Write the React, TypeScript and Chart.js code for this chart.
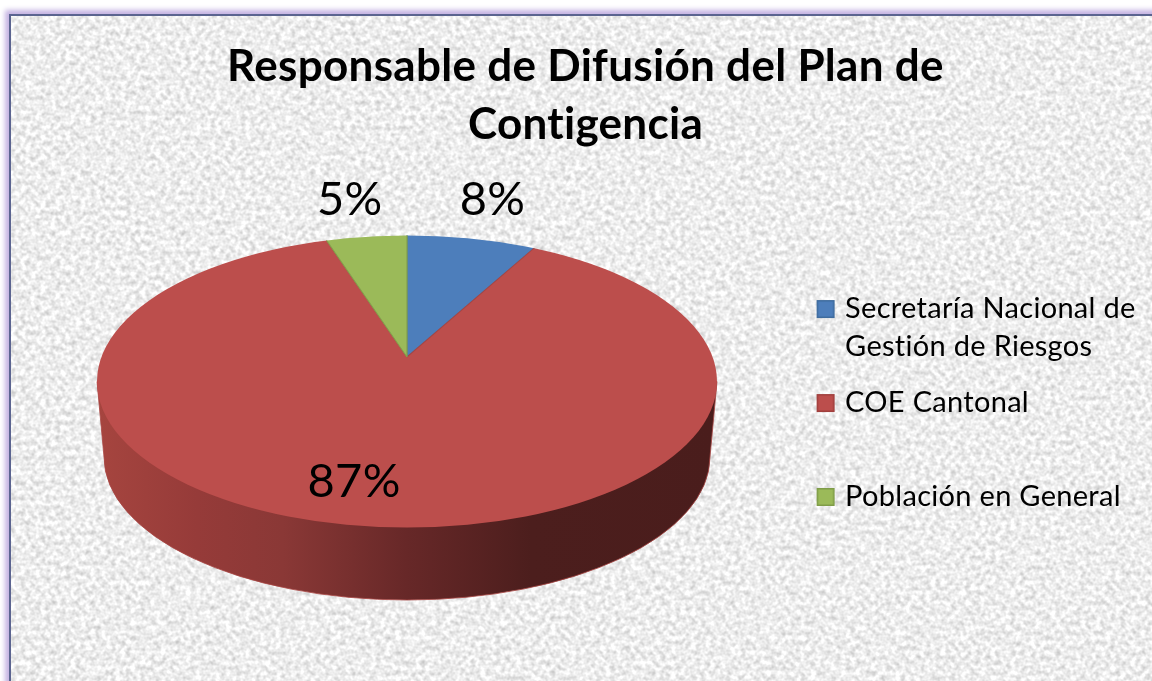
import React, { useEffect, useRef } from "react";
import { Chart, registerables } from "chart.js";

Chart.register(...registerables);

const categories: (string | string[])[] = [
  ["Secretaría Nacional de", "Gestión de Riesgos"],
  ["COE Cantonal", ""],
  ["Población en General"],
];
const values = [8, 87, 5];
const colors = ["#4D7EBB", "#BC4E4C", "#9BBA59"];
const edgeColors = ["#45709F", "#A84543", "#84A04C"];
const legendEdges = ["#3F6C9E", "#A03F3D", "#7F9C48"];
const titleLines = ["Responsable de Difusión del Plan de", "Contigencia"];

// Pie projection
const FONT = "Lato";
const APEX = { x: 407, y: 357 };
const TOP = { cx: 407, cy: 381.5, rx: 310, ry: 146 };
const BASE = { cx: 407, cy: 457, rx: 303, ry: 143 };
const PIE_UNSCALED_R = 400;
const LABEL_R = [344, 265, 340];
const LABEL_DX = [0, -28, -4];
const LABEL_DY = [0, 1, 1];

const noise = `<svg xmlns='http://www.w3.org/2000/svg' width='1152' height='681'><filter id='n' x='0' y='0' width='100%' height='100%' color-interpolation-filters='sRGB'><feTurbulence type='fractalNoise' baseFrequency='0.2' numOctaves='2' seed='7'/><feColorMatrix type='matrix' values='0.38 0 0 0 0.74  0.38 0 0 0 0.74  0.38 0 0 0 0.74  0 0 0 0 1'/></filter><rect width='1152' height='681' filter='url(#n)'/></svg>`;

function legendSwatch(fill: string, edge: string) {
  const c = document.createElement("canvas");
  c.width = 24;
  c.height = 20;
  const g = c.getContext("2d")!;
  g.fillStyle = fill;
  g.fillRect(5, 1, 18, 18);
  g.strokeStyle = edge;
  g.lineWidth = 1.5;
  g.strokeRect(5.75, 1.75, 16.5, 16.5);
  return c;
}

const pie3d = {
  id: "pie3d",
  beforeDraw(chart: any) {
    // a non-zero spacing also turns off the "ti" ligature of the font
    chart.ctx.letterSpacing = "0.3px";
  },
  beforeDatasetsDraw(chart: any) {
    const ctx = chart.ctx;
    const first = chart.getDatasetMeta(0).data[0];
    // Extruded side
    ctx.save();
    const grad = ctx.createLinearGradient(TOP.cx - TOP.rx, 0, TOP.cx + TOP.rx, 0);
    grad.addColorStop(0, "#A6453F");
    grad.addColorStop(0.16, "#963B39");
    grad.addColorStop(0.3, "#8A3836");
    grad.addColorStop(0.5, "#672828");
    grad.addColorStop(0.7, "#4C1E1D");
    grad.addColorStop(1, "#4A1D1C");
    ctx.beginPath();
    ctx.moveTo(TOP.cx - TOP.rx, TOP.cy);
    ctx.lineTo(BASE.cx - BASE.rx, BASE.cy);
    ctx.ellipse(BASE.cx, BASE.cy, BASE.rx, BASE.ry, 0, Math.PI, 0, true);
    ctx.lineTo(TOP.cx + TOP.rx, TOP.cy);
    ctx.closePath();
    ctx.fillStyle = grad;
    ctx.fill();
    ctx.strokeStyle = "#A84543";
    ctx.lineWidth = 0.8;
    ctx.stroke();
    ctx.restore();

    // Top face: the library's arcs, foreshortened and clipped to the ellipse
    ctx.save();
    ctx.beginPath();
    ctx.ellipse(TOP.cx, TOP.cy, TOP.rx, TOP.ry, 0, 0, Math.PI * 2);
    ctx.clip();
    const s = PIE_UNSCALED_R / first.outerRadius;
    ctx.translate(APEX.x, APEX.y);
    ctx.scale(s, s * (TOP.ry / TOP.rx));
    ctx.translate(-first.x, -first.y);
  },
  afterDatasetsDraw(chart: any) {
    const ctx = chart.ctx;
    ctx.restore();
    const total = values.reduce((a, b) => a + b, 0);
    ctx.save();
    ctx.fillStyle = "#000";
    ctx.font = `47px ${FONT}`;
    ctx.textAlign = "center";
    ctx.textBaseline = "middle";
    chart.getDatasetMeta(0).data.forEach((arc: any, i: number) => {
      const mid = (arc.startAngle + arc.endAngle) / 2;
      const k = TOP.ry / TOP.rx;
      const x = APEX.x + Math.cos(mid) * LABEL_R[i] + LABEL_DX[i];
      const y = APEX.y + Math.sin(mid) * LABEL_R[i] * k + LABEL_DY[i];
      ctx.fillText(`${Math.round((values[i] / total) * 100)}%`, x, y);
    });
    ctx.restore();
  },
};

export default function App() {
  const ref = useRef<HTMLCanvasElement>(null);
  useEffect(() => {
    const chart = new Chart(ref.current!, {
      type: "doughnut",
      data: {
        labels: categories as any,
        datasets: [
          {
            data: values,
            backgroundColor: colors,
            borderColor: edgeColors,
            borderWidth: 0.8,
            clip: false as any,
          },
        ],
      },
      plugins: [pie3d],
      options: {
        responsive: false,
        animation: false,
        cutout: 0,
        layout: { padding: { left: 32, top: 38, right: 13, bottom: -96 } },
        plugins: {
          tooltip: { enabled: false },
          title: {
            display: true,
            text: titleLines,
            color: "#000",
            font: { family: FONT, size: 44, weight: "bold", lineHeight: 1.32 },
            padding: { top: 0, bottom: 10 },
          },
          legend: {
            display: true,
            position: "right",
            labels: {
              color: "#000",
              font: { family: FONT, size: 29, lineHeight: 1.31 },
              padding: 18,
              usePointStyle: true,
              pointStyleWidth: 14,
              boxHeight: 18,
              generateLabels: (c: any) =>
                categories.map((text, i) => ({
                  text,
                  index: i,
                  fontColor: "#000",
                  lineWidth: 0,
                  strokeStyle: "transparent",
                  fillStyle: colors[i],
                  pointStyle: legendSwatch(colors[i], legendEdges[i]),
                })) as any,
            },
          },
        },
      },
    } as any);
    return () => chart.destroy();
  }, []);

  return (
    <div
      style={{
        position: "fixed",
        left: 0,
        top: 0,
        width: 1152,
        height: 681,
        overflow: "hidden",
        background: "#fff",
      }}
    >
      <div
        style={{
          position: "absolute",
          left: 9,
          top: 14,
          width: 1300,
          height: 800,
          borderLeft: "2px solid #5B6490",
          borderTop: "2px solid #5B6490",
          boxShadow: "0 0 5px 4px #C4B2E2",
          backgroundImage: `url("data:image/svg+xml,${encodeURIComponent(noise)}")`,
        }}
      />
      <canvas
        ref={ref}
        width={1152}
        height={681}
        style={{ position: "absolute", left: 0, top: 0, display: "block" }}
      />
    </div>
  );
}
